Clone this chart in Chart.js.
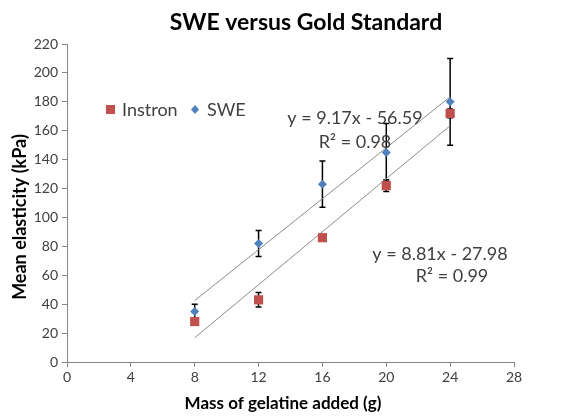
<!DOCTYPE html>
<html>
<head>
<meta charset="utf-8">
<script src="https://cdn.jsdelivr.net/npm/chart.js@4/dist/chart.umd.min.js"></script>
<style>
  html, body { margin: 0; padding: 0; background: #fff; }
  #wrap { width: 587px; height: 417px; }
</style>
</head>
<body>
<div id="wrap"><canvas id="sweChart" width="587" height="417"></canvas></div>
<script>
// values
const massG = [8, 12, 16, 20, 24];
const instron = [28, 43, 86, 122, 172];
const instronErr = [1, 5, 2, 4, 3];
const swe = [35, 82, 123, 145, 180];
const sweErr = [5, 9, 16, 20, 30];
const xTicks = [0, 4, 8, 12, 16, 20, 24, 28];
const yTicks = [0, 20, 40, 60, 80, 100, 120, 140, 160, 180, 200, 220];

// Excel trendline coefficients (from the labels)
const instronFit = { slope: 9.17, icpt: -56.59, label: 'y = 9.17x - 56.59', r2: 'R² = 0.98' };
const sweFit = { slope: 8.81, icpt: -27.98, label: 'y = 8.81x - 27.98', r2: 'R² = 0.99' };

const RED = '#C0504D', BLUE = '#4F81BD', AXIS = '#868686', TXT = '#404040';
const FONT = 'Lato, Carlito, Calibri, sans-serif';

const pts = (ys) => massG.map((x, i) => ({ x: x, y: ys[i] }));
const fitLine = (f) => [massG[0], massG[massG.length - 1]].map(x => ({ x: x, y: f.slope * x + f.icpt }));

// error bars, titles, in-plot legend and trendline labels
const extras = {
  id: 'extras',
  beforeDatasetsDraw(chart) {
    const { ctx, scales: { x, y } } = chart;
    ctx.save();
    ctx.strokeStyle = '#000';
    ctx.lineWidth = 1.5;
    [[instron, instronErr], [swe, sweErr]].forEach(([vals, errs]) => {
      vals.forEach((v, i) => {
        const px = x.getPixelForValue(massG[i]);
        const top = y.getPixelForValue(v + errs[i]);
        const bot = y.getPixelForValue(v - errs[i]);
        ctx.beginPath();
        ctx.moveTo(px, top); ctx.lineTo(px, bot);
        ctx.moveTo(px - 3, top); ctx.lineTo(px + 3, top);
        ctx.moveTo(px - 3, bot); ctx.lineTo(px + 3, bot);
        ctx.stroke();
      });
    });
    ctx.restore();
  },
  afterDraw(chart) {
    const { ctx } = chart;
    ctx.save();
    ctx.textBaseline = 'middle';
    // titles
    ctx.fillStyle = '#000';
    ctx.textAlign = 'center';
    ctx.font = 'bold 23px ' + FONT;
    ctx.fillText('SWE versus Gold Standard', 306, 23);
    ctx.font = 'bold 17px ' + FONT;
    ctx.fillText('Mass of gelatine added (g)', 283, 404);
    ctx.save();
    ctx.translate(20, 217);
    ctx.rotate(-Math.PI / 2);
    ctx.font = 'bold 18px ' + FONT;
    ctx.fillText('Mean elasticity (kPa)', 0, 0);
    ctx.restore();
    // legend
    ctx.fillStyle = RED;
    ctx.fillRect(106, 105, 9, 9);
    ctx.fillStyle = BLUE;
    ctx.beginPath();
    ctx.moveTo(195, 105); ctx.lineTo(199, 109.5); ctx.lineTo(195, 114); ctx.lineTo(191, 109.5);
    ctx.closePath(); ctx.fill();
    ctx.fillStyle = TXT;
    ctx.font = '18px ' + FONT;
    ctx.textAlign = 'left';
    ctx.fillText('Instron', 122, 110);
    ctx.fillText('SWE', 207, 110);
    // trendline equations
    ctx.textAlign = 'center';
    ctx.fillText(instronFit.label, 355, 118);
    ctx.fillText(instronFit.r2, 355, 142);
    ctx.fillText(sweFit.label, 440, 254);
    ctx.fillText(sweFit.r2, 452, 276);
    ctx.restore();
  }
};

const ctxSwe = document.getElementById('sweChart').getContext('2d');
const sweChart = new Chart(ctxSwe, {
  type: 'scatter',
  data: {
    datasets: [
      { label: 'Instron', data: pts(instron), pointStyle: 'rect', pointRadius: 6.5,
        backgroundColor: RED, borderColor: RED, borderWidth: 0, order: 1 },
      { label: 'SWE', data: pts(swe), pointStyle: 'rectRot', pointRadius: 4.5,
        backgroundColor: BLUE, borderColor: BLUE, borderWidth: 0, order: 0 },
      { type: 'line', label: 'Linear (Instron)', data: fitLine(instronFit), borderColor: '#8c8c8c',
        borderWidth: 1, pointRadius: 0, fill: false, order: 3 },
      { type: 'line', label: 'Linear (SWE)', data: fitLine(sweFit), borderColor: '#8c8c8c',
        borderWidth: 1, pointRadius: 0, fill: false, order: 3 }
    ]
  },
  options: {
    responsive: false,
    animation: false,
    devicePixelRatio: 1,
    layout: { padding: { left: 0, right: 73, top: 44, bottom: 4 } },
    plugins: {
      legend: { display: false },
      tooltip: { enabled: false },
      title: { display: false }
    },
    scales: {
      x: {
        type: 'linear', min: 0, max: 28,
        afterBuildTicks: (s) => { s.ticks = xTicks.map(v => ({ value: v })); },
        afterFit: (s) => { s.height = 51; },
        ticks: { color: TXT, font: { family: FONT, size: 14 }, padding: 2 },
        grid: { display: true, drawOnChartArea: false, drawTicks: true, tickLength: 5, color: AXIS },
        border: { display: true, color: AXIS }
      },
      y: {
        type: 'linear', min: 0, max: 220,
        afterBuildTicks: (s) => { s.ticks = yTicks.map(v => ({ value: v })); },
        afterFit: (s) => { s.width = 67; },
        ticks: { color: TXT, font: { family: FONT, size: 14 }, padding: 4 },
        grid: { display: true, drawOnChartArea: false, drawTicks: true, tickLength: 5, color: AXIS },
        border: { display: true, color: AXIS }
      }
    }
  },
  plugins: [extras]
});
</script>
</body>
</html>
